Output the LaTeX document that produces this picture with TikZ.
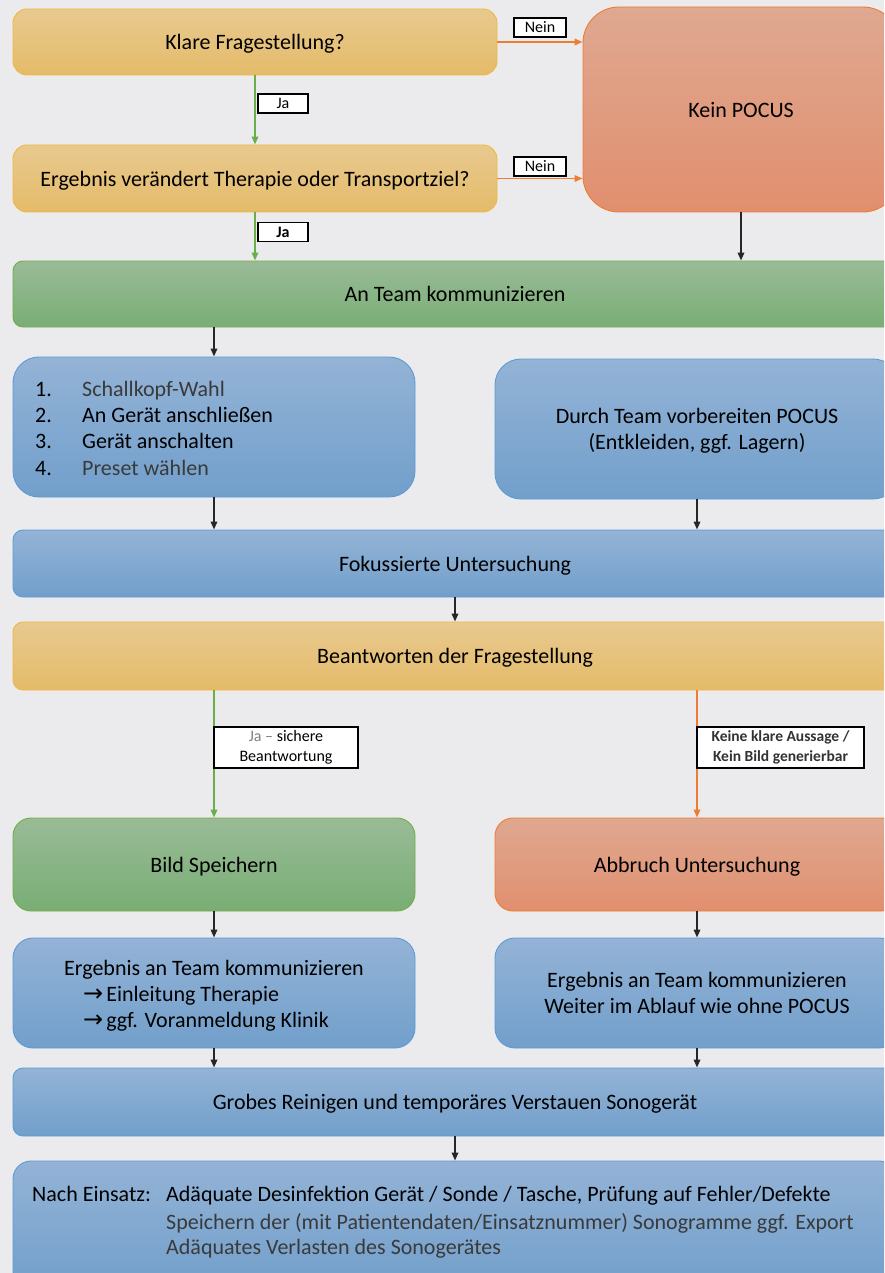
\documentclass[tikz,border=0pt]{standalone}
\usepackage{fontspec}
\setmainfont{Carlito}
\newfontfamily\djv{DejaVu Sans}
\usetikzlibrary{arrows.meta}
\definecolor{bg}{HTML}{EBEBEE}
\definecolor{yt}{HTML}{E8C98F}
\definecolor{yb}{HTML}{E4BB69}
\definecolor{yd}{HTML}{F0B840}
\definecolor{gt}{HTML}{99BB97}
\definecolor{gb}{HTML}{79AE74}
\definecolor{gd}{HTML}{70AD47}
\definecolor{ot}{HTML}{DFA891}
\definecolor{ob}{HTML}{E18F6E}
\definecolor{od}{HTML}{ED7D31}
\definecolor{bt}{HTML}{94B3D6}
\definecolor{bb}{HTML}{719FCB}
\definecolor{bd}{HTML}{5B9BD5}
\definecolor{ga}{HTML}{6AAE47}
\definecolor{lighttext}{HTML}{3A3A3A}
\tikzset{
  box/.style={rounded corners=14pt, line width=0.9pt, align=center, inner sep=0pt,
    font=\fontsize{22}{26}\selectfont, text=black, text depth=0pt},
  ybox/.style={box, draw=yd, top color=yt, bottom color=yb},
  gbox/.style={box, draw=gd, top color=gt, bottom color=gb},
  obox/.style={box, draw=od, top color=ot, bottom color=ob},
  bbox/.style={box, draw=bd, top color=bt, bottom color=bb},
  lbl/.style={draw=black, fill=white, line width=1.3pt, inner sep=0pt, align=center,
    font=\fontsize{16}{20}\selectfont},
  tx/.style={inner sep=0pt, font=\fontsize{22}{26}\selectfont},
  arr/.style={line width=1.8pt, -{Triangle[length=8pt,width=6.5pt]}},
  garr/.style={arr, draw=ga},
  oarr/.style={arr, draw=od},
  karr/.style={arr, draw=black!85},
}
\newcommand\rarr{{\djv\fontsize{24}{24}\selectfont →}}
\begin{document}
\begin{tikzpicture}[x=1pt,y=-1pt]
\useasboundingbox (0,0) rectangle (884,1273);
\fill[bg] (0,0) rectangle (884,1273);
\clip (0,0) rectangle (884,1273);

% boxes
\node[ybox, minimum width=484pt, minimum height=66pt] (q1) at (255,42) {Klare Fragestellung?};
\node[ybox, minimum width=484pt, minimum height=67pt] (q2) at (255,178.5) {Ergebnis verändert Therapie oder Transportziel?};
\node[obox, rounded corners=36pt, minimum width=316pt, minimum height=205pt] (kp) at (741,109.5) {Kein POCUS};
\node[gbox, rounded corners=10pt, minimum width=884pt, minimum height=66pt] (team) at (455,294) {An Team kommunizieren};
\node[bbox, rounded corners=26pt, minimum width=402pt, minimum height=140pt] (list) at (214,427) {};
\node[bbox, rounded corners=26pt, minimum width=404pt, minimum height=140pt] (prep) at (697,429) {Durch Team vorbereiten POCUS\\(Entkleiden, ggf. Lagern)};
\node[bbox, rounded corners=10pt, minimum width=884pt, minimum height=67pt] (fok) at (455,563.5) {Fokussierte Untersuchung};
\node[ybox, rounded corners=10pt, minimum width=884pt, minimum height=68pt] (ans) at (455,656) {Beantworten der Fragestellung};
\node[gbox, rounded corners=18pt, minimum width=402pt, minimum height=93pt] (bild) at (214,864.5) {Bild Speichern};
\node[obox, rounded corners=18pt, minimum width=404pt, minimum height=93pt] (abb) at (697,864.5) {Abbruch Untersuchung};
\node[bbox, rounded corners=20pt, minimum width=402pt, minimum height=110pt] (erg1) at (214,993) {};
\node[bbox, rounded corners=20pt, minimum width=404pt, minimum height=110pt] (erg2) at (697,993) {Ergebnis an Team kommunizieren\\Weiter im Ablauf wie ohne POCUS};
\node[bbox, rounded corners=10pt, minimum width=884pt, minimum height=68pt] (grob) at (455,1102) {Grobes Reinigen und temporäres Verstauen Sonogerät};
\node[bbox, rounded corners=18pt, minimum width=884pt, minimum height=128pt] (nach) at (455,1225) {};

% list text
\node[tx, anchor=base west] (i1n) at (35,396) {1.};
\node[tx, anchor=base west, text=lighttext] (i1t) at (82,396) {Schallkopf-Wahl};
\node[tx, anchor=base west] (i2n) at (35,422) {2.};
\node[tx, anchor=base west] (i2t) at (82,422) {An Gerät anschließen};
\node[tx, anchor=base west] (i3n) at (35,448) {3.};
\node[tx, anchor=base west] (i3t) at (82,448) {Gerät anschalten};
\node[tx, anchor=base west] (i4n) at (35,475) {4.};
\node[tx, anchor=base west, text=lighttext] (i4t) at (82,475) {Preset wählen};

% Ergebnis left text
\node[tx, anchor=base] (e1a) at (214,975) {Ergebnis an Team kommunizieren};
\node[tx, anchor=base west] (e1b) at (83,1001) {\rarr\hspace{3pt}Einleitung Therapie};
\node[tx, anchor=base west] (e1c) at (83,1027) {\rarr\hspace{3pt}ggf. Voranmeldung Klinik};

% Nach Einsatz text
\node[tx, anchor=base west] (n0) at (32,1201) {Nach Einsatz:};
\node[tx, anchor=base west] (n1) at (166,1201) {Adäquate Desinfektion Gerät / Sonde / Tasche, Prüfung auf Fehler/Defekte};
\node[tx, anchor=base west, text=lighttext] (n2) at (166,1229) {Speichern der (mit Patientendaten/Einsatznummer) Sonogramme ggf. Export};
\node[tx, anchor=base west, text=lighttext] (n3) at (166,1254) {Adäquates Verlasten des Sonogerätes};

% arrows
\draw[garr] (q1) -- (q2);
\draw[oarr] (q1.east) -- (q1.east -| kp.west);
\draw[oarr] (q2.east) -- (q2.east -| kp.west);
\draw[garr] (q2) -- (q2.south |- team.north);
\draw[karr] (kp) -- (kp.south |- team.north);
\draw[karr] (team.south -| list.north) -- (list);
\draw[karr] (list) -- (list.south |- fok.north);
\draw[karr] (prep) -- (prep.south |- fok.north);
\draw[karr] (fok) -- (ans);
\draw[garr] (ans.south -| bild.north) -- (bild);
\draw[oarr] (ans.south -| abb.north) -- (abb);
\draw[karr] (bild) -- (erg1);
\draw[karr] (abb) -- (erg2);
\draw[karr] (erg1) -- (erg1.south |- grob.north);
\draw[karr] (erg2) -- (erg2.south |- grob.north);
\draw[karr] (grob) -- (nach.north -| grob.south);

% labels
\node[lbl, minimum width=52pt, minimum height=19pt] (ln1) at (540,27.5) {Nein};
\node[lbl, minimum width=52pt, minimum height=19pt] (ln2) at (540,166.5) {Nein};
\node[lbl, minimum width=50pt, minimum height=19pt] (lj1) at (283,103.5) {Ja};
\node[lbl, minimum width=50pt, minimum height=19pt, font=\fontsize{16}{20}\selectfont\bfseries] (lj2) at (283,232) {Ja};
\node[lbl, minimum width=144pt, minimum height=41pt] (ls) at (286,747.5) {{\color{gray}Ja –} sichere\\Beantwortung};
\node[lbl, minimum width=167pt, minimum height=41pt, font=\fontsize{15.5}{20}\selectfont\bfseries, text=black!80] (lk) at (780.5,747.5) {Keine klare Aussage /\\Kein Bild generierbar};
\end{tikzpicture}
\end{document}
